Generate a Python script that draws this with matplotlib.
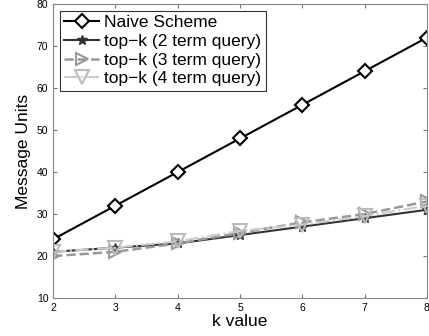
import numpy as np
import matplotlib.pyplot as plt

plt.rcParams['font.family'] = ['Liberation Sans', 'DejaVu Sans']

k_values = [2, 3, 4, 5, 6, 7, 8]
naive = [24, 32, 40, 48, 56, 64, 72]
topk_2 = [21, 22, 23, 25, 27, 29, 31]
topk_3 = [20, 21, 23, 25.5, 28, 30, 33]
topk_4 = [21, 22, 23.5, 26, 27.5, 29.5, 32]
labels = ['Naive Scheme', 'top\u2212k (2 term query)',
          'top\u2212k (3 term query)', 'top\u2212k (4 term query)']

fig = plt.figure(figsize=(4.29, 3.36), dpi=100)
ax = fig.add_axes([0.124, 0.113, 0.871, 0.875])

ax.plot(k_values, naive, color='black', lw=1.5, marker='D', ms=7,
        mfc='white', mec='black', mew=1.5, label=labels[0])
ax.plot(k_values, topk_2, color='#333333', lw=1.5, marker='*', ms=7,
        mfc='#333333', mec='#333333', label=labels[1])
ax.plot(k_values, topk_3, color='#999999', lw=1.8, ls='--', marker='>', ms=9,
        mfc='none', mec='#999999', mew=1.5, label=labels[2])
ax.plot(k_values, topk_4, color='#cccccc', lw=1.5, ls='-.', marker='v', ms=10,
        mfc='none', mec='#bbbbbb', mew=1.5, label=labels[3])

ax.set_xlim(2, 8)
ax.set_ylim(10, 80)
ax.set_xticks(k_values)
ax.set_yticks(range(10, 81, 10))
ax.tick_params(direction='in', top=True, right=True, labelsize=7.5, length=3,
               color='#777777')
for s in ax.spines.values():
    s.set_color('#888888')
ax.set_xlabel('k value', fontsize=12.5, labelpad=1)
ax.set_ylabel('Message Units', fontsize=12.5, labelpad=4)

leg = ax.legend(loc='upper left', fontsize=12.5, frameon=True, fancybox=False,
                edgecolor='black', handlelength=2.0, borderpad=0.25,
                labelspacing=0.2, handletextpad=0.3, borderaxespad=0.4)
leg.get_frame().set_linewidth(0.8)

fig.savefig('out.png', dpi=100)
